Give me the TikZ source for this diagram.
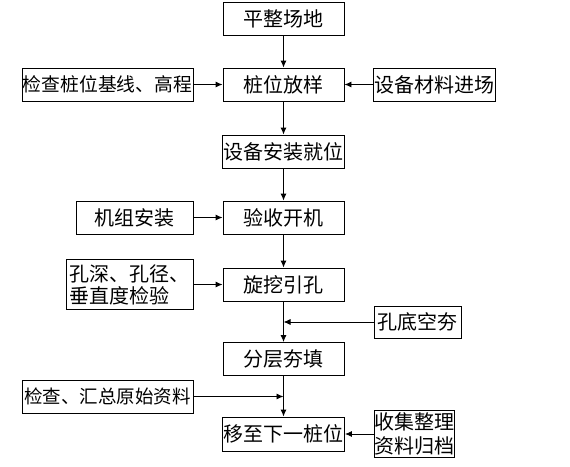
\documentclass[tikz,border=0pt]{standalone}
\usepackage{fontspec}
\setmainfont{Noto Sans CJK SC}
\usepackage{tikz}
\usetikzlibrary{calc, arrows.meta}

\begin{document}
\begin{tikzpicture}[->, >={Latex[length=7pt,width=6pt]}, x=1pt, y=-1pt, line width=0.9pt,
    box/.style={draw, rectangle, minimum height=33pt, inner sep=1pt, font=\fontsize{20pt}{24pt}\selectfont},
    mainbox/.style={box, minimum width=121pt}]
        \useasboundingbox (0,0) rectangle (570,466);

        \node[mainbox](flat) at (283.5, 19){平整场地};
        \node[mainbox](stake) at (283.5, 84.5){桩位放样};
        \node[box, minimum width=171pt, inner sep=0pt, font=\fontsize{18.8pt}{24pt}\selectfont](baseline) at (107.5, 84.5){检查桩位基线、高程};
        \node[box, minimum width=121pt](material) at (434.5, 84.5){设备材料进场};

        \node[mainbox](install) at (283.5, 151.5){设备安装就位};
        \node[mainbox](accept) at (283.5, 217.5){验收开机};
        \node[box, minimum width=117pt](unit) at (134.5, 217.5){机组安装};

        \node[mainbox](drill) at (283.5, 284.5){旋挖引孔};
        \node[box, minimum width=127pt, minimum height=50pt, align=left, font=\fontsize{20pt}{22pt}\selectfont](check) at (129.5, 284.5){孔深、孔径、\\垂直度检验};
        \node[box, minimum width=87pt, minimum height=32pt](tamp) at (417.5, 322){孔底空夯};
        \coordinate (tamp_j) at (drill.south |- tamp.west);

        \node[mainbox](fill) at (283.5, 359){分层夯填};
        \node[box, minimum width=171pt, font=\fontsize{18.5pt}{24pt}\selectfont](record) at (107.5, 396.5){检查、汇总原始资料};
        \coordinate (record_j) at (fill.south |- record.east);

        \node[mainbox, minimum height=34pt](next) at (283.5, 434){移至下一桩位};
        \node[box, minimum width=80pt, minimum height=47pt, inner sep=0pt, align=left](archive) at (414, 434){收集整理\\资料归档};

        \path(flat) edge node {}(stake);
        \path(stake) edge node {}(install);
        \path(install) edge node {}(accept);
        \path(accept) edge node {}(drill);
        \path(drill) edge node {}(fill);
        \path(fill) edge node {}(next);

        \path(baseline) edge node {}(stake);
        \path(material) edge node {}(stake);
        \path(unit) edge node {}(accept);
        \path(check) edge node {}(drill);
        \path(tamp) edge node {}(tamp_j);
        \path(record) edge node {}(record_j);
        \path(archive) edge node {}(next);

    \end{tikzpicture}
\end{document}
